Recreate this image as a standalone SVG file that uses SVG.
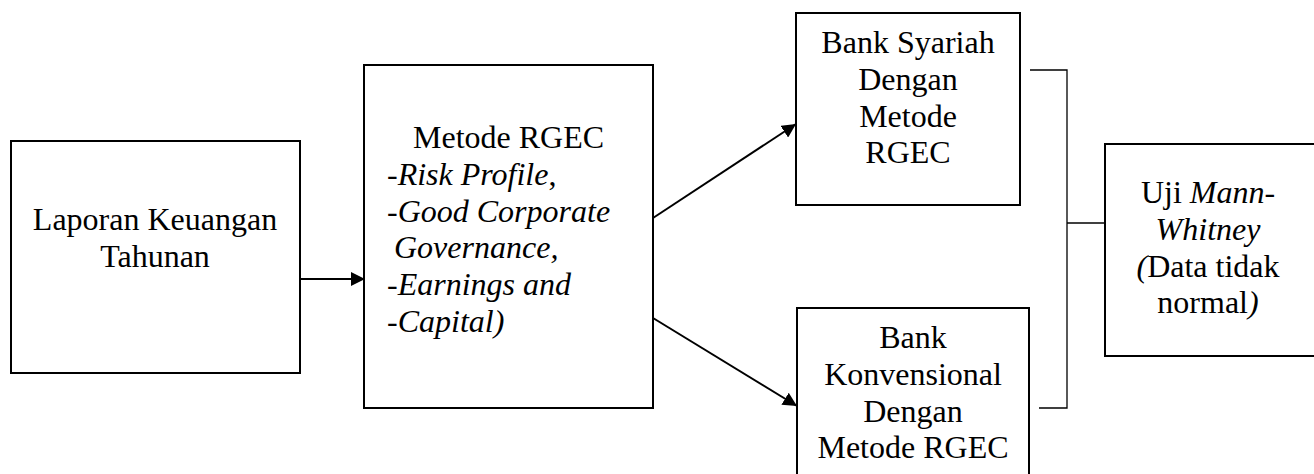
<svg xmlns="http://www.w3.org/2000/svg" width="1314" height="474" viewBox="0 0 1314 474">
<style>
.box{fill:#fff;stroke:#000;stroke-width:2}
text{font-family:"Liberation Serif","Times New Roman",serif;font-size:32px;fill:#000}
.c{text-anchor:middle}
.i{font-style:italic}
.con{stroke:#000;stroke-width:2;fill:none}
.br{stroke:#000;stroke-width:1.3;fill:none}
</style>
<defs>
<marker id="ah" viewBox="0 0 10 10" refX="10" refY="5" markerWidth="14" markerHeight="14" markerUnits="userSpaceOnUse" orient="auto">
<path d="M0,0 L10,5 L0,10 z" fill="#000"/>
</marker>
</defs>
<g id="n1">
<rect class="box" x="11" y="141" width="289" height="232"/>
<text class="c" x="155" y="230">Laporan Keuangan</text>
<text class="c" x="155" y="267">Tahunan</text>
</g>
<g id="n2">
<rect class="box" x="364" y="65" width="289" height="343"/>
<text x="413" y="148">Metode RGEC</text>
<text x="387" y="185">-<tspan class="i">Risk Profile</tspan>,</text>
<text x="387" y="222">-<tspan class="i">Good Corporate</tspan></text>
<text x="394" y="258" class="i">Governance,</text>
<text x="387" y="295">-<tspan class="i">Earnings and</tspan></text>
<text x="387" y="332">-<tspan class="i">Capital)</tspan></text>
</g>
<g id="n3">
<rect class="box" x="796" y="13" width="224" height="192"/>
<text class="c" x="908" y="53">Bank Syariah</text>
<text class="c" x="908" y="90">Dengan</text>
<text class="c" x="908" y="127">Metode</text>
<text class="c" x="908" y="163">RGEC</text>
</g>
<g id="n4">
<rect class="box" x="797" y="308" width="232" height="180"/>
<text class="c" x="913" y="348">Bank</text>
<text class="c" x="913" y="385">Konvensional</text>
<text class="c" x="913" y="422">Dengan</text>
<text class="c" x="913" y="458">Metode RGEC</text>
</g>
<g id="n5">
<rect class="box" x="1105" y="144" width="215" height="212"/>
<text class="c" x="1208" y="203">Uji <tspan class="i">Mann-</tspan></text>
<text class="c i" x="1208" y="240">Whitney</text>
<text class="c" x="1208" y="277"><tspan class="i">(</tspan>Data tidak</text>
<text class="c" x="1208" y="313">normal<tspan class="i">)</tspan></text>
</g>
<g id="connectors">
<line class="con" x1="300" y1="279" x2="365" y2="279" marker-end="url(#ah)"/>
<line class="con" x1="653" y1="218" x2="796" y2="124" marker-end="url(#ah)"/>
<line class="con" x1="653" y1="318" x2="797" y2="406" marker-end="url(#ah)"/>
<polyline class="br" points="1030,70 1067,70 1067,408 1039,408"/>
<line class="br" x1="1067" y1="223" x2="1105" y2="223"/>
</g>
</svg>
